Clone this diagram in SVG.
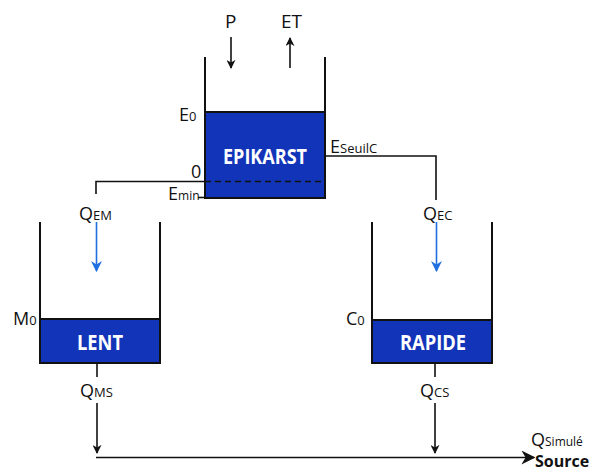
<svg xmlns="http://www.w3.org/2000/svg" width="601" height="471" viewBox="0 0 601 471">
<defs>
<style>
.t{font-family:"Open Sans","Liberation Sans",sans-serif;font-size:18px;fill:#111}
.s{font-size:13px}
.b{font-family:"Open Sans","Liberation Sans",sans-serif;font-size:21px;font-weight:bold;fill:#fff;text-anchor:middle}
.w{stroke:#111;stroke-width:2;fill:none}
.l{stroke:#111;stroke-width:1.6;fill:none}
.box{fill:#1234b8;stroke:#111;stroke-width:2}
.bl{stroke:#1f6fe0;stroke-width:1.6;fill:none}
</style>
<marker id="ak" viewBox="0 0 10 10" refX="9" refY="5" markerWidth="9" markerHeight="9" orient="auto" markerUnits="userSpaceOnUse"><path d="M0,0 L10,5 L0,10 L3,5 z" fill="#111"/></marker>
<marker id="ab" viewBox="0 0 10 10" refX="9" refY="5" markerWidth="11" markerHeight="11" orient="auto" markerUnits="userSpaceOnUse"><path d="M0,0 L10,5 L0,10 L3,5 z" fill="#1f6fe0"/></marker>
<marker id="ak2" viewBox="0 0 10 10" refX="9" refY="5" markerWidth="14" markerHeight="14" orient="auto" markerUnits="userSpaceOnUse"><path d="M0,0 L10,5 L0,10 L3,5 z" fill="#111"/></marker>
</defs>

<g id="epikarst">
<rect class="box" x="205" y="112" width="120" height="86"/>
<path class="w" d="M205,57 V198 M325,57 V198"/>
<path d="M205,181.5 H325" stroke="#111" stroke-width="1.6" stroke-dasharray="6,4"/>
<text class="b" x="265" y="164" textLength="84" lengthAdjust="spacingAndGlyphs">EPIKARST</text>
<text class="t" x="179" y="121">E<tspan class="s">0</tspan></text>
<text class="t" x="191" y="178">0</text>
<text class="t" x="168" y="200">E<tspan class="s" style="font-size:12px">min</tspan></text>
<path class="l" d="M198,197.5 H205"/>
</g>

<g id="lent">
<rect class="box" x="40" y="319" width="120" height="44"/>
<path class="w" d="M40,222 V363 M160,222 V363"/>
<text class="b" x="100" y="350" textLength="46" lengthAdjust="spacingAndGlyphs">LENT</text>
<text class="t" x="13" y="325">M<tspan class="s">0</tspan></text>
</g>

<g id="rapide">
<rect class="box" x="372" y="320" width="120" height="43"/>
<path class="w" d="M372,222 V363 M492,222 V363"/>
<text class="b" x="433" y="350" textLength="66" lengthAdjust="spacingAndGlyphs">RAPIDE</text>
<text class="t" x="346" y="325">C<tspan class="s">0</tspan></text>
</g>

<g id="inputs">
<text class="t" x="225" y="28" style="font-size:19px">P</text>
<text class="t" x="281" y="28" style="font-size:19px">ET</text>
</g>

<g id="labels">
<text class="t" x="79" y="220">Q<tspan class="s">EM</tspan></text>
<text class="t" x="423" y="220">Q<tspan class="s">EC</tspan></text>
<text class="t" x="330" y="153">E<tspan class="s">SeuilC</tspan></text>
<text class="t" x="80" y="397">Q<tspan class="s">MS</tspan></text>
<text class="t" x="420" y="397">Q<tspan class="s">CS</tspan></text>
<text class="t" x="531" y="446">Q<tspan class="s" style="font-size:12px">Simulé</tspan></text>
<text class="t" x="535" y="467" style="font-weight:bold;font-size:16px">Source</text>
</g>

<g id="connectors">
<path class="l" d="M231,37 V68" marker-end="url(#ak)"/>
<path class="l" d="M290,68 V38" marker-end="url(#ak)"/>
<path class="l" d="M205,181.5 H96 V194"/>
<path class="l" d="M325,156 H436 V200"/>
<path class="bl" d="M96.5,222 V271" marker-end="url(#ab)"/>
<path class="bl" d="M436.5,222 V271" marker-end="url(#ab)"/>
<path class="l" d="M97,363 V377"/>
<path class="l" d="M97,403 V453" marker-end="url(#ak)"/>
<path class="l" d="M435,363 V377"/>
<path class="l" d="M435,403 V453" marker-end="url(#ak)"/>
<path class="l" d="M96,457.5 H534" marker-end="url(#ak2)"/>
</g>
</svg>
